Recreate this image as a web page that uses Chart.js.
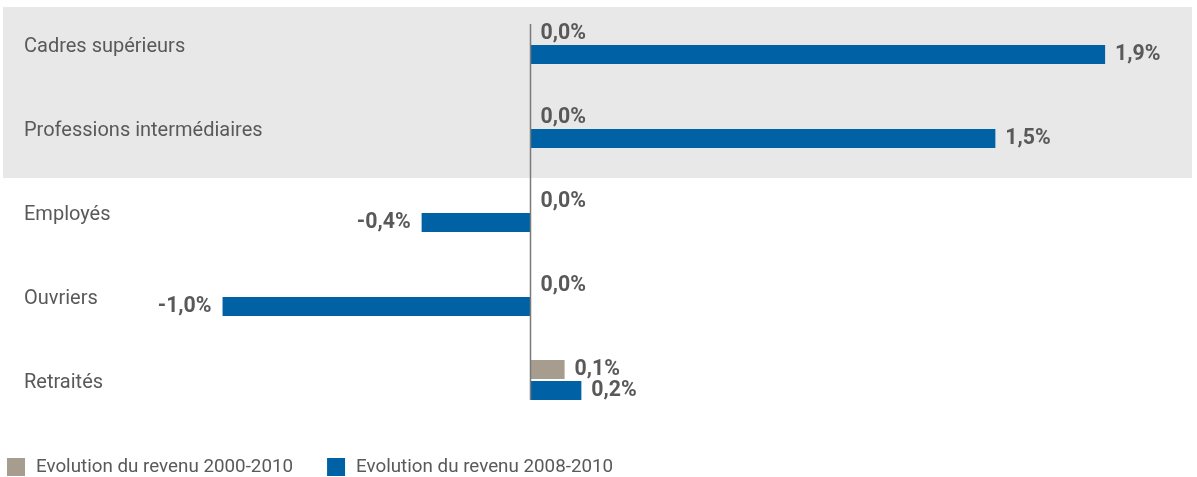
<!DOCTYPE html>
<html>
<head>
<meta charset="utf-8">
<script src="https://cdn.jsdelivr.net/npm/chart.js@4.4.0/dist/chart.umd.min.js"></script>
<style>
  html, body { margin: 0; padding: 0; background: #ffffff; }
  #wrap { width: 1197px; height: 477px; position: relative; }
</style>
</head>
<body>
<div id="wrap"><canvas id="c" width="1197" height="477"></canvas></div>
<script>
// ---- data ----
const categories = ['Cadres supérieurs', 'Professions intermédiaires', 'Employés', 'Ouvriers', 'Retraités'];
const seriesNames = ['Evolution du revenu 2000-2010', 'Evolution du revenu 2008-2010'];
const revenu2000_2010 = [0.0, 0.0, 0.0, 0.0, 0.112];
const revenu2008_2010 = [1.885, 1.525, -0.357, -1.01, 0.167];
const xMin = -1.74;
const xMax = 2.17;

// ---- styles ----
const COLOR_GREY = '#a69d8f';
const COLOR_BLUE = '#0062a5';
const COLOR_TEXT = '#595959';
const COLOR_BAND = '#e8e8e8';
const COLOR_AXIS = '#7a7a7a';
const FONT = 'Roboto, "Noto Sans", sans-serif';

Chart.defaults.font.family = FONT;

function fmt(v) {
  return v.toFixed(1).replace('.', ',').replace('-0,0', '0,0') + '%';
}

const bandPlugin = {
  id: 'band',
  beforeDraw(chart) {
    const y = chart.scales.y, ca = chart.chartArea, ctx = chart.ctx;
    const sp = y.getPixelForValue(1) - y.getPixelForValue(0);
    const top = y.getPixelForValue(0) - sp / 2 + 5;
    const bottom = y.getPixelForValue(1) + sp / 2 + 8;
    ctx.save();
    ctx.fillStyle = COLOR_BAND;
    ctx.fillRect(ca.left + 3, top, ca.right - ca.left - 3, bottom - top);
    ctx.restore();
  }
};

const categoryLabelPlugin = {
  id: 'catLabels',
  afterDatasetsDraw(chart) {
    const y = chart.scales.y, ca = chart.chartArea, ctx = chart.ctx;
    ctx.save();
    ctx.font = '20px ' + FONT;
    ctx.fillStyle = COLOR_TEXT;
    ctx.textAlign = 'left';
    ctx.textBaseline = 'middle';
    chart.data.labels.forEach((lab, i) => {
      ctx.fillText(lab, ca.left + 24, y.getPixelForValue(i) + 3);
    });
    ctx.restore();
  }
};

const zeroLinePlugin = {
  id: 'zeroLine',
  afterDatasetsDraw(chart) {
    const ctx = chart.ctx;
    const m0 = chart.getDatasetMeta(0).data;
    const m1 = chart.getDatasetMeta(1).data;
    const first = m0[0], last = m1[m1.length - 1];
    const top = first.y - first.height / 2;
    const bottom = last.y + last.height / 2;
    const x = Math.round(chart.scales.x.getPixelForValue(0)) + 0.5;
    ctx.save();
    ctx.strokeStyle = COLOR_AXIS;
    ctx.lineWidth = 1.5;
    ctx.beginPath();
    ctx.moveTo(x, top);
    ctx.lineTo(x, bottom);
    ctx.stroke();
    ctx.restore();
  }
};

const valueLabelPlugin = {
  id: 'valueLabels',
  afterDatasetsDraw(chart) {
    const ctx = chart.ctx;
    ctx.save();
    ctx.font = 'bold 21.3px ' + FONT;
    ctx.fillStyle = COLOR_TEXT;
    ctx.textBaseline = 'middle';
    chart.data.datasets.forEach((ds, di) => {
      chart.getDatasetMeta(di).data.forEach((bar, i) => {
        const v = ds.data[i];
        const txt = fmt(v);
        if (v < 0) {
          ctx.textAlign = 'right';
          ctx.fillText(txt, bar.x - 11, bar.y);
        } else {
          ctx.textAlign = 'left';
          ctx.fillText(txt, bar.x + 10, bar.y);
        }
      });
    });
    ctx.restore();
  }
};

const legendPlugin = {
  id: 'customLegend',
  afterDraw(chart) {
    const ctx = chart.ctx;
    const yMid = chart.height - 10;
    const box = 18;
    let x = 7;
    ctx.save();
    ctx.font = '18.8px ' + FONT;
    ctx.textBaseline = 'middle';
    ctx.textAlign = 'left';
    chart.data.datasets.forEach((ds) => {
      ctx.fillStyle = ds.backgroundColor;
      ctx.fillRect(x, yMid - 9, box, box);
      ctx.fillStyle = COLOR_TEXT;
      const tx = x + box + 11;
      ctx.fillText(ds.label, tx, yMid);
      x = tx + ctx.measureText(ds.label).width + 34;
    });
    ctx.restore();
  }
};

new Chart(document.getElementById('c'), {
  type: 'bar',
  data: {
    labels: categories,
    datasets: [
      { label: seriesNames[0], data: revenu2000_2010, backgroundColor: COLOR_GREY,
        categoryPercentage: 0.5, barPercentage: 0.9 },
      { label: seriesNames[1], data: revenu2008_2010, backgroundColor: COLOR_BLUE,
        categoryPercentage: 0.5, barPercentage: 0.9 }
    ]
  },
  options: {
    indexAxis: 'y',
    responsive: false,
    animation: false,
    devicePixelRatio: 1,
    layout: { padding: { top: 2, bottom: 55, left: 0, right: 5 } },
    plugins: {
      legend: { display: false },
      tooltip: { enabled: false }
    },
    scales: {
      x: {
        display: false,
        min: xMin,
        max: xMax
      },
      y: {
        display: false
      }
    }
  },
  plugins: [bandPlugin, zeroLinePlugin, valueLabelPlugin, categoryLabelPlugin, legendPlugin]
});
</script>
</body>
</html>
